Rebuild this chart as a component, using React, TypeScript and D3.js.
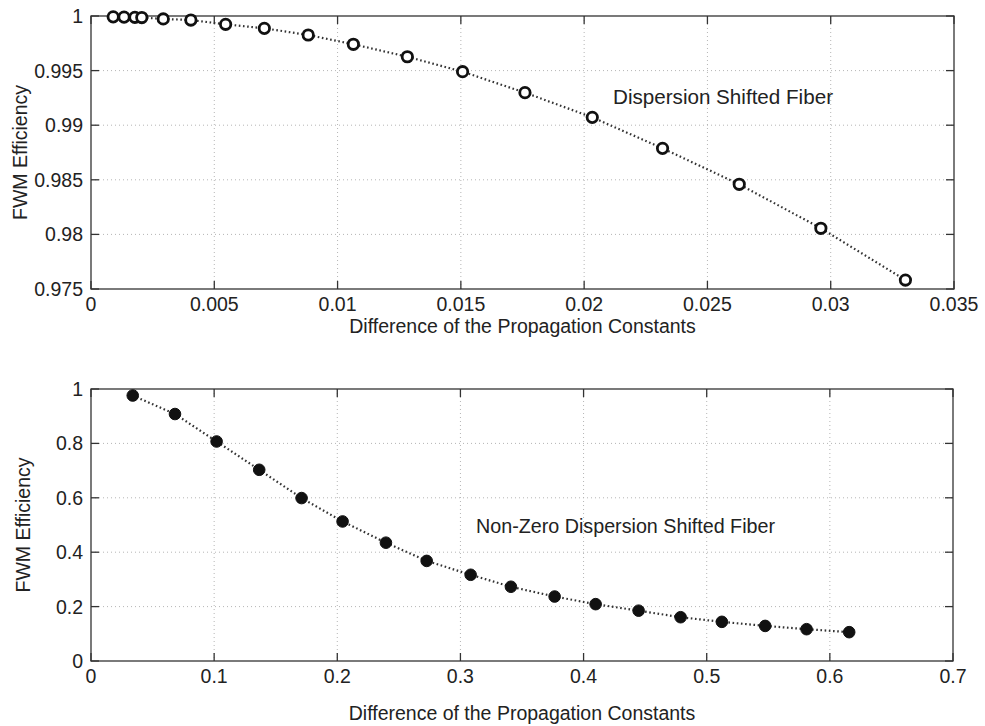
import React from "react";
import * as d3 from "d3";

const dsfX = [0.0009, 0.00134, 0.00178, 0.00206, 0.00293, 0.00405, 0.00546, 0.00703, 0.00881, 0.01064, 0.01283, 0.01507, 0.0176, 0.02033, 0.02318, 0.02629, 0.0296, 0.03303];
const dsfY = [0.99992, 0.9999, 0.99988, 0.99986, 0.99973, 0.99963, 0.99924, 0.99887, 0.99826, 0.99741, 0.99627, 0.9949, 0.99298, 0.99072, 0.98788, 0.98459, 0.98056, 0.97582];

const nzX = [0.0339, 0.0682, 0.102, 0.1366, 0.171, 0.2043, 0.2395, 0.2726, 0.3083, 0.341, 0.3765, 0.4098, 0.4447, 0.4788, 0.5123, 0.5475, 0.5811, 0.6157];
const nzY = [0.976, 0.908, 0.807, 0.703, 0.599, 0.513, 0.435, 0.368, 0.317, 0.273, 0.237, 0.209, 0.185, 0.161, 0.144, 0.129, 0.117, 0.106];

const topXTicks = [0, 0.005, 0.01, 0.015, 0.02, 0.025, 0.03, 0.035];
const topXTickLabels = ["0", "0.005", "0.01", "0.015", "0.02", "0.025", "0.03", "0.035"];
const topYTicks = [0.975, 0.98, 0.985, 0.99, 0.995, 1];
const topYTickLabels = ["0.975", "0.98", "0.985", "0.99", "0.995", "1"];

const botXTicks = [0, 0.1, 0.2, 0.3, 0.4, 0.5, 0.6, 0.7];
const botXTickLabels = ["0", "0.1", "0.2", "0.3", "0.4", "0.5", "0.6", "0.7"];
const botYTicks = [0, 0.2, 0.4, 0.6, 0.8, 1];
const botYTickLabels = ["0", "0.2", "0.4", "0.6", "0.8", "1"];

const xLabel = "Difference of the Propagation Constants";
const yLabel = "FWM Efficiency";
const topNote = "Dispersion Shifted Fiber";
const botNote = "Non-Zero Dispersion Shifted Fiber";

const FONT = "'Liberation Sans', Arial, Helvetica, sans-serif";
const FS = 19.5;
const TXT = "#222";
const AX = "#333";

type PanelProps = {
  left: number; right: number; top: number; bottom: number;
  xDomain: [number, number]; yDomain: [number, number];
  xTicks: number[]; xTickLabels: string[];
  yTicks: number[]; yTickLabels: string[];
  xs: number[]; ys: number[];
  filled: boolean;
  note: string; noteX: number; noteY: number; noteLen: number;
  xLabelY: number; yLabelX: number;
};

function Panel(p: PanelProps) {
  const x = d3.scaleLinear().domain(p.xDomain).range([p.left, p.right]);
  const y = d3.scaleLinear().domain(p.yDomain).range([p.bottom, p.top]);
  const pts = p.xs.map((v, i) => [v, p.ys[i]] as [number, number]);
  const line = d3.line<[number, number]>().x(d => x(d[0])).y(d => y(d[1]));
  const tl = 8;
  return (
    <g>
      {p.xTicks.slice(1, -1).map((t, i) => (
        <line key={"gx" + i} x1={x(t)} x2={x(t)} y1={p.top} y2={p.bottom}
          stroke="#b5b5b5" strokeWidth={1} strokeDasharray="1,3" />
      ))}
      {p.yTicks.slice(1, -1).map((t, i) => (
        <line key={"gy" + i} x1={p.left} x2={p.right} y1={y(t)} y2={y(t)}
          stroke="#b5b5b5" strokeWidth={1} strokeDasharray="1,3" />
      ))}
      <rect x={p.left} y={p.top} width={p.right - p.left} height={p.bottom - p.top}
        fill="none" stroke={AX} strokeWidth={1.3} />
      {p.xTicks.map((t, i) => (
        <g key={"tx" + i}>
          <line x1={x(t)} x2={x(t)} y1={p.bottom} y2={p.bottom - tl} stroke={AX} strokeWidth={1.3} />
          <line x1={x(t)} x2={x(t)} y1={p.top} y2={p.top + tl} stroke={AX} strokeWidth={1.3} />
          <text x={x(t)} y={p.bottom + 22} textAnchor="middle" fontFamily={FONT} fontSize={FS} fill={TXT}>
            {p.xTickLabels[i]}
          </text>
        </g>
      ))}
      {p.yTicks.map((t, i) => (
        <g key={"ty" + i}>
          <line x1={p.left} x2={p.left + tl} y1={y(t)} y2={y(t)} stroke={AX} strokeWidth={1.3} />
          <line x1={p.right} x2={p.right - tl} y1={y(t)} y2={y(t)} stroke={AX} strokeWidth={1.3} />
          <text x={p.left - 8} y={y(t) + 7} textAnchor="end" fontFamily={FONT} fontSize={FS} fill={TXT}>
            {p.yTickLabels[i]}
          </text>
        </g>
      ))}
      <path d={line(pts) || ""} fill="none" stroke="#333" strokeWidth={2.2} strokeDasharray="1.6,2.6" />
      {pts.map((d, i) => (
        <circle key={"c" + i} cx={x(d[0])} cy={y(d[1])} r={p.filled ? 5.8 : 5.2}
          fill={p.filled ? "#111" : "white"} stroke="#111" strokeWidth={p.filled ? 1 : 2.8} />
      ))}
      <text x={p.noteX} y={p.noteY} fontFamily={FONT} fontSize={FS} fill={TXT}
        textLength={p.noteLen} lengthAdjust="spacingAndGlyphs">{p.note}</text>
      <text x={(p.left + p.right) / 2} y={p.xLabelY} textAnchor="middle" fontFamily={FONT} fontSize={FS} fill={TXT}>
        {xLabel}
      </text>
      <text transform={`translate(${p.yLabelX},${(p.top + p.bottom) / 2}) rotate(-90)`} textAnchor="middle"
        fontFamily={FONT} fontSize={FS} fill={TXT}>
        {yLabel}
      </text>
    </g>
  );
}

export default function App() {
  return (
    <svg width={985} height={726} style={{ position: "absolute", left: 0, top: 0, background: "white" }}>
      <rect x={0} y={0} width={985} height={726} fill="white" />
      <Panel left={91} right={954} top={16} bottom={289}
        xDomain={[0, 0.035]} yDomain={[0.975, 1]}
        xTicks={topXTicks} xTickLabels={topXTickLabels}
        yTicks={topYTicks} yTickLabels={topYTickLabels}
        xs={dsfX} ys={dsfY} filled={false}
        note={topNote} noteX={613} noteY={104} noteLen={220}
        xLabelY={333} yLabelX={27} />
      <Panel left={91} right={953} top={389} bottom={661}
        xDomain={[0, 0.7]} yDomain={[0, 1]}
        xTicks={botXTicks} xTickLabels={botXTickLabels}
        yTicks={botYTicks} yTickLabels={botYTickLabels}
        xs={nzX} ys={nzY} filled={true}
        note={botNote} noteX={476} noteY={533} noteLen={299}
        xLabelY={720} yLabelX={30} />
    </svg>
  );
}
